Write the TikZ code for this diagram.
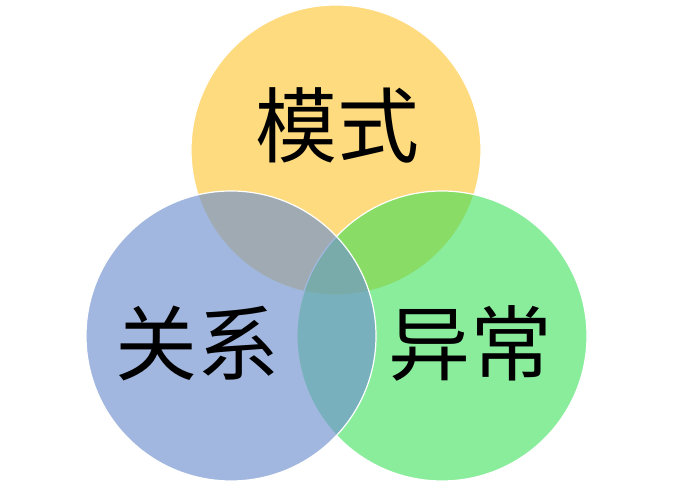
\documentclass[tikz,border=0pt]{standalone}
\usepackage{fontspec}
\newfontfamily\cjk{Noto Sans CJK SC}
\definecolor{kruhzluta}{RGB}{255,219,127}
\definecolor{kruhmodra}{RGB}{112,146,206}
\definecolor{kruhzelena}{RGB}{53,224,85}
\tikzset{
    kruh/.style={draw=white, line width=1.2pt},
    napis/.style={font=\cjk\fontsize{82}{90}\selectfont}
}

\begin{document}
\begin{tikzpicture}[x=1pt, y=1pt]
    \useasboundingbox (0,0) rectangle (674,487);

    % horní kruh
    \fill[kruhzluta] (336,337) circle (145);
    \draw[kruh] (336,337) circle (145);
    \node[napis] (vzor) at (337,362) {模式};

    % pravý kruh
    \fill[kruhzelena, fill opacity=0.58] (442,151) circle (145);
    \draw[kruh] (442,151) circle (145);

    % levý kruh
    \fill[kruhmodra, fill opacity=0.66] (231,151) circle (145);
    \draw[kruh] (231,151) circle (145);

    \node[napis] (vztah) at (197,144) {关系};
    \node[napis] (anomalie) at (470,144) {异常};
\end{tikzpicture}
\end{document}
